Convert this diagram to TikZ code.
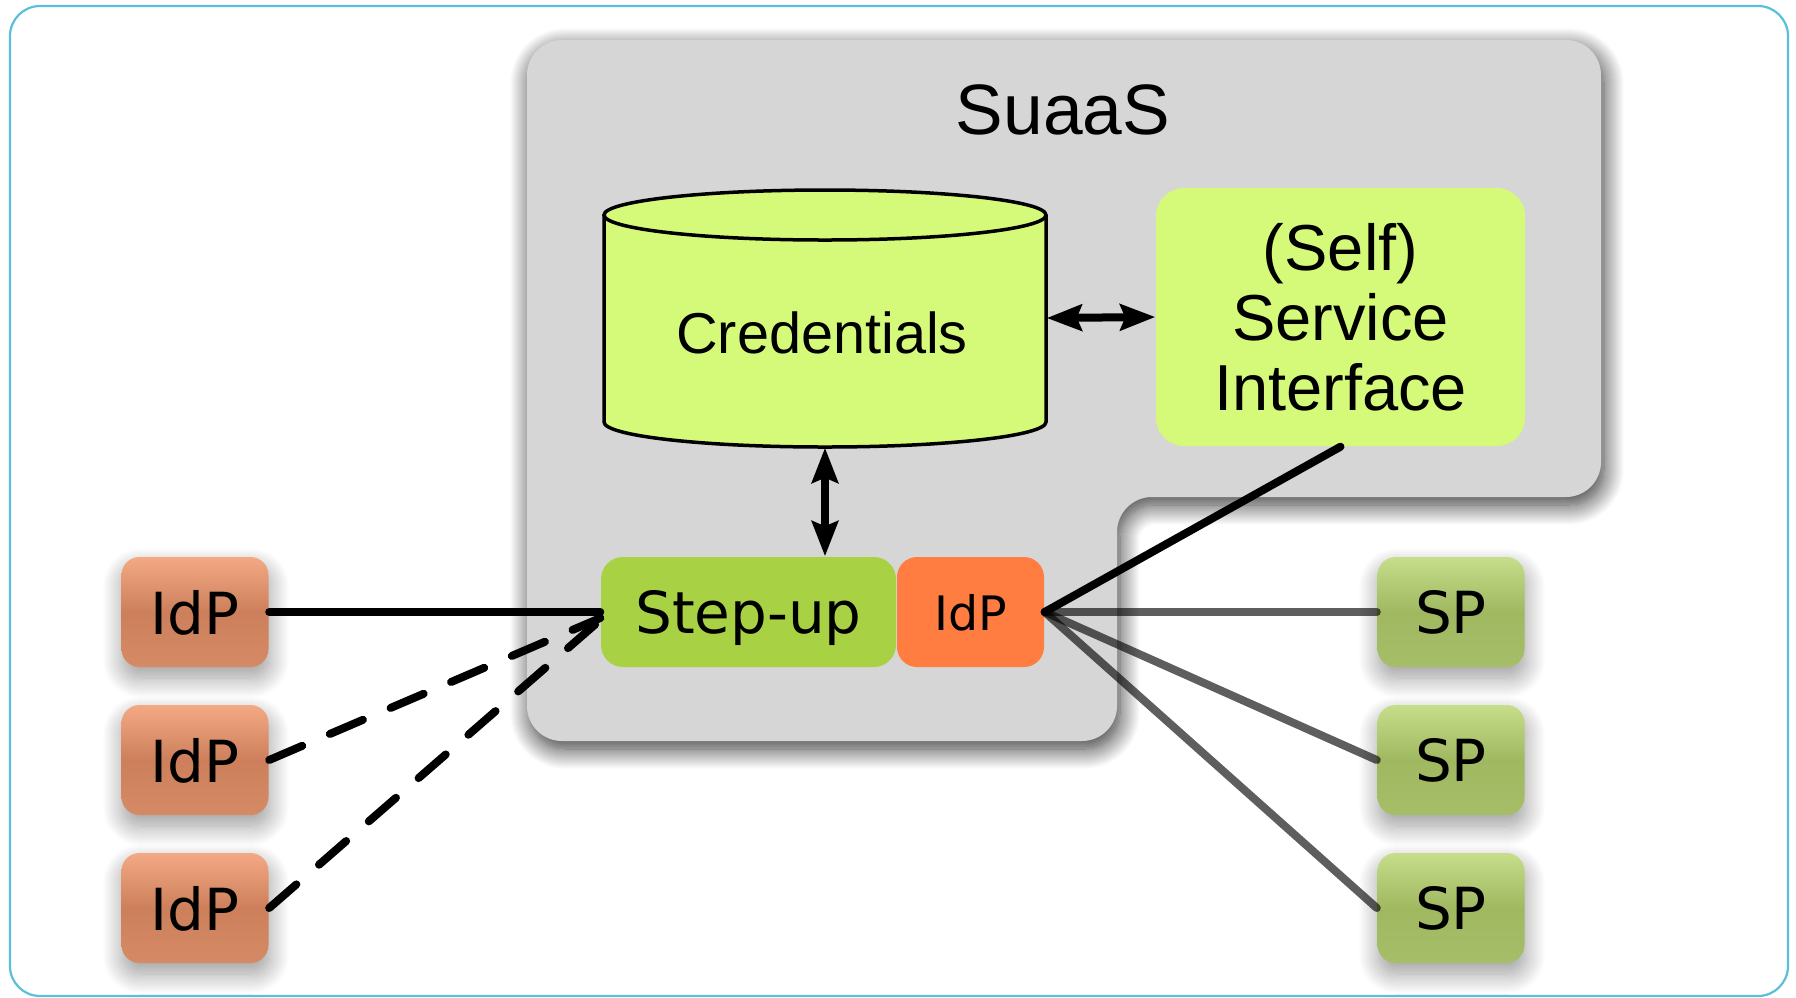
\documentclass[tikz,border=0pt]{standalone}
\usepackage{fontspec}
\setmainfont{Liberation Sans}
\newfontfamily\dejavu{DejaVu Sans}
\usetikzlibrary{arrows.meta,shadows.blur}

\definecolor{framecyan}{HTML}{5BBFD9}
\definecolor{panelgrey}{HTML}{D6D6D6}
\definecolor{lime}{HTML}{D5FA7A}
\definecolor{stepgreen}{HTML}{A8D244}
\definecolor{idporange}{HTML}{FF7D40}
\definecolor{idpTop}{HTML}{F4A985}
\definecolor{idpMid}{HTML}{CD7F5B}
\definecolor{idpBot}{HTML}{D58A66}
\definecolor{spTop}{HTML}{C6DE8A}
\definecolor{spMid}{HTML}{A0B860}
\definecolor{spBot}{HTML}{A6BE68}

\begin{document}
\begin{tikzpicture}[x=0.1mm, y=-0.1mm,
  tile/.style={rounded corners=1.8mm, minimum width=14.7mm, minimum height=11mm,
    inner sep=0pt, text depth=0pt, font=\dejavu\fontsize{16.5}{19}\selectfont,
    blur shadow={shadow xshift=0.1mm, shadow yshift=-1.1mm,
      shadow blur radius=2mm, shadow blur steps=20, shadow opacity=40}},
  idptile/.style={tile, top color=idpTop, bottom color=idpBot, middle color=idpMid},
  sptile/.style={tile, top color=spTop, bottom color=spBot, middle color=spMid},
  inner/.style={minimum height=11mm, inner sep=0pt, text depth=0pt},
  link/.style={line width=0.8mm, line cap=round},
  dashlink/.style={link, dash pattern=on 3.6mm off 3mm},
  greylink/.style={link, draw=black, draw opacity=0.63},
  biarrow/.style={line width=0.8mm,
    {Stealth[length=3.5mm,width=2.6mm,inset=0.5mm]}-{Stealth[length=3.5mm,width=2.6mm,inset=0.5mm]}},
]
\useasboundingbox (0,0) rectangle (1796,997);

% outer frame
\draw[framecyan, line width=0.22mm, rounded corners=3mm] (10,6) rectangle (1788,996);

% SuaaS service panel
\path[fill=panelgrey, rounded corners=3.5mm,
      blur shadow={shadow xshift=0.3mm, shadow yshift=-0.8mm,
        shadow blur radius=2mm, shadow blur steps=20, shadow opacity=80}]
  (527,40) -- (1601,40) -- (1601,497) -- (1117,497) -- (1117,741) -- (527,741) -- cycle;
\node[font=\fontsize{20.3}{24}\selectfont, anchor=base] (title) at (1063,134) {SuaaS};

% credentials store (cylinder)
\fill[lime] (604,215) rectangle (1046,422);
\fill[lime] (825,422) ellipse [x radius=22.1mm, y radius=2.5mm];
\draw[line width=0.35mm] (604,215) -- (604,422)
  arc[start angle=180, end angle=360, x radius=22.1mm, y radius=2.5mm] -- (1046,215);
\draw[line width=0.35mm, fill=lime] (825,215) ellipse [x radius=22.1mm, y radius=2.5mm];
\node[minimum width=44.2mm, minimum height=25.8mm, inner sep=0pt] (cyl) at (825,318) {};
\node[font=\fontsize{16.4}{20}\selectfont, anchor=base] (credtext) at (822,353) {Credentials};

% self service interface
\node[fill=lime, rounded corners=2.8mm, minimum width=36.9mm, minimum height=25.8mm,
      inner sep=0pt, align=center, font=\fontsize{18.5}{19.9}\selectfont]
  (ssi) at (1340.5,317) {(Self)\\Service\\Interface};

% step-up with its own IdP
\node[inner, fill=stepgreen, rounded corners=2.2mm, minimum width=29.5mm,
      font=\dejavu\fontsize{16.5}{19}\selectfont] (stepup) at (748.5,612) {Step-up};
\node[inner, fill=idporange, rounded corners=2mm, minimum width=14.7mm,
      font=\dejavu\fontsize{13.5}{16}\selectfont] (idpin) at (970.5,612) {IdP};

% external identity providers
\node[idptile] (idpA) at (195,612) {IdP};
\node[idptile] (idpB) at (195,760) {IdP};
\node[idptile] (idpC) at (195,908) {IdP};

% service providers
\node[sptile] (spA) at (1451,612) {SP};
\node[sptile] (spB) at (1451,760) {SP};
\node[sptile] (spC) at (1451,908) {SP};

% connections
\draw[biarrow] (cyl.east) -- (ssi.west);
\draw[biarrow] (cyl.south) -- (cyl.south |- stepup.north);

\draw[dashlink] (idpB.east) -- ([yshift=-0.6mm]stepup.west);
\draw[dashlink] (idpC.east) -- ([yshift=-0.8mm]stepup.west);
\draw[link] (idpA.east) -- (stepup.west);

\draw[greylink] (idpin.east) -- (spA.west);
\draw[greylink] (idpin.east) -- (spB.west);
\draw[greylink] (idpin.east) -- (spC.west);
\draw[link] (idpin.east) -- (ssi.south);
\end{tikzpicture}
\end{document}
